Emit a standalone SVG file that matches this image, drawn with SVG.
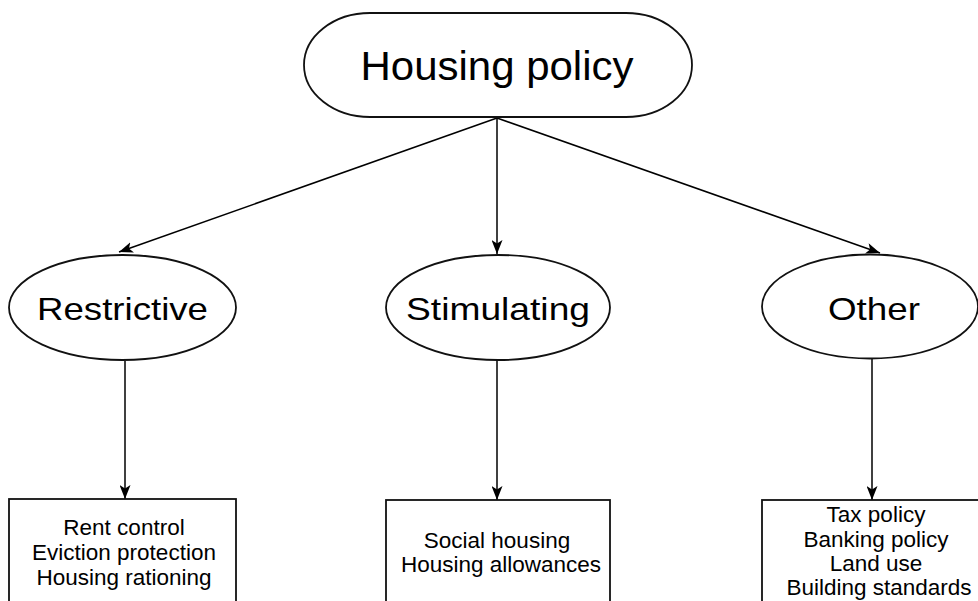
<svg xmlns="http://www.w3.org/2000/svg" width="978" height="601" viewBox="0 0 978 601">
<defs>
<marker id="ah" markerWidth="14" markerHeight="11" refX="14" refY="5.5" orient="auto" markerUnits="userSpaceOnUse">
<path d="M0,0 L14,5.5 L0,11 L3.5,5.5 Z" fill="#000"/>
</marker>
<style>
.shape{fill:#fff;stroke:#111;stroke-width:1.8}
.big{font-family:"Liberation Sans",Arial,sans-serif;fill:#000;text-anchor:middle}
.small{font-family:"Liberation Sans",Arial,sans-serif;font-size:22.5px;fill:#000;text-anchor:middle}
.conn{stroke:#000;stroke-width:1.5;fill:none;marker-end:url(#ah)}
</style>
</defs>
<rect width="978" height="601" fill="#fff"/>
<g id="connectors">
<line class="conn" x1="497" y1="118" x2="119" y2="252"/>
<line class="conn" x1="497" y1="118" x2="497" y2="254"/>
<line class="conn" x1="497" y1="118" x2="880" y2="253"/>
<line class="conn" x1="125" y1="361" x2="125" y2="499"/>
<line class="conn" x1="497" y1="361" x2="497" y2="500"/>
<line class="conn" x1="872" y1="359" x2="872" y2="500"/>
</g>
<g id="housing-policy">
<rect class="shape" x="304" y="13" width="388" height="104" rx="66" ry="52"/>
<text class="big" x="497" y="80" font-size="40" textLength="273" lengthAdjust="spacingAndGlyphs">Housing policy</text>
</g>
<g id="restrictive">
<ellipse class="shape" cx="122.5" cy="307.5" rx="113.5" ry="52.5"/>
<text class="big" x="122.5" y="320" font-size="32" textLength="171" lengthAdjust="spacingAndGlyphs">Restrictive</text>
</g>
<g id="stimulating">
<ellipse class="shape" cx="498" cy="307.5" rx="112" ry="52.5"/>
<text class="big" x="498" y="320" font-size="32" textLength="184" lengthAdjust="spacingAndGlyphs">Stimulating</text>
</g>
<g id="other">
<ellipse class="shape" cx="870" cy="306.5" rx="108" ry="52"/>
<text class="big" x="874" y="320" font-size="32" textLength="92" lengthAdjust="spacingAndGlyphs">Other</text>
</g>
<g id="restrictive-box">
<rect class="shape" x="9" y="499" width="227" height="120"/>
<text class="small" x="124" y="535">Rent control</text>
<text class="small" x="124" y="560">Eviction protection</text>
<text class="small" x="124" y="585">Housing rationing</text>
</g>
<g id="stimulating-box">
<rect class="shape" x="386" y="500" width="224" height="120"/>
<text class="small" x="497" y="548">Social housing</text>
<text class="small" x="501" y="572">Housing allowances</text>
</g>
<g id="other-box">
<rect class="shape" x="762" y="500" width="230" height="120"/>
<text class="small" x="876" y="522">Tax policy</text>
<text class="small" x="876" y="547">Banking policy</text>
<text class="small" x="876" y="571">Land use</text>
<text class="small" x="879" y="595">Building standards</text>
</g>
</svg>
